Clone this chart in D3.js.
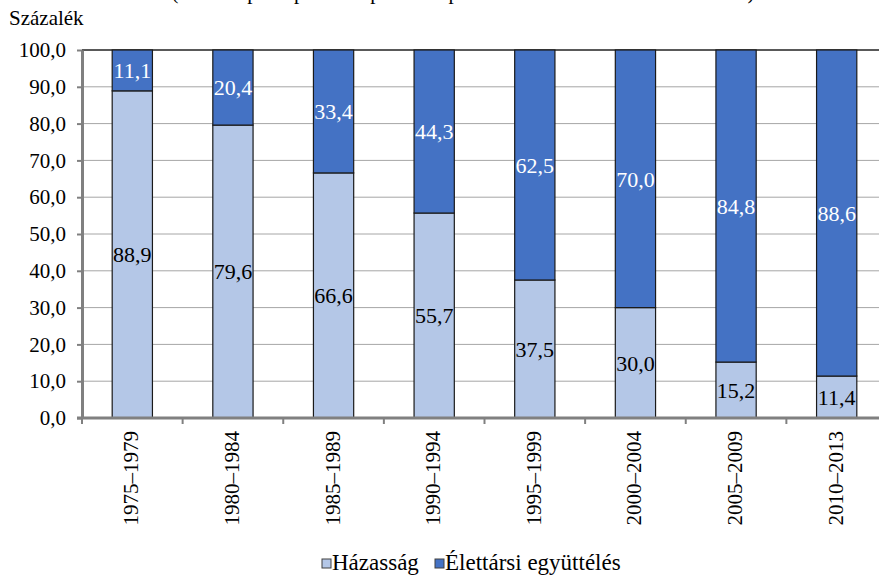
<!DOCTYPE html>
<html>
<head>
<meta charset="utf-8">
<script src="https://cdn.jsdelivr.net/npm/d3@7"></script>
<style>
  html, body { margin: 0; padding: 0; background: #fff; }
  svg { display: block; }
</style>
</head>
<body>
<svg id="chart" width="879" height="575"></svg>
<script>
// Periods when the first partnership started
const periods = ["1975–1979", "1980–1984", "1985–1989", "1990–1994", "1995–1999", "2000–2004", "2005–2009", "2010–2013"];
// Share of partnerships started as marriage (%)
const marriage = [88.9, 79.6, 66.6, 55.7, 37.5, 30.0, 15.2, 11.4];
// Share of partnerships started as cohabitation (%)
const cohabitation = [11.1, 20.4, 33.4, 44.3, 62.5, 70.0, 84.8, 88.6];
const yTicks = [0, 10, 20, 30, 40, 50, 60, 70, 80, 90, 100];
const seriesNames = ["Házasság", "Élettársi együttélés"];
const colors = ["#b4c7e7", "#4472c4"];

const FONT = "Liberation Serif";
const svg = d3.select("#chart").attr("font-family", FONT);
const margin = { left: 82, top: 50, right: -8, bottom: 157 };
const W = 879, H = 575;

const x = d3.scaleBand().domain(periods).range([margin.left, W - margin.right]).paddingInner(0).paddingOuter(0);
const y = d3.scaleLinear().domain([0, 100]).range([H - margin.bottom, margin.top]);
const fmt = v => d3.format(".1f")(v).replace(".", ",");

// Title line (runs off the top edge)
svg.append("text")
  .attr("x", 463).attr("y", -1.5)
  .attr("text-anchor", "middle")
  .attr("font-family", FONT)
  .attr("font-size", 21)
  .text("(Az első párkapcsolat típusa a kapcsolat kezdetének időszaka szerint)");

// Unit label
svg.append("text").attr("x", 9).attr("y", 25)
  .attr("font-family", FONT).attr("font-size", 21).text("Százalék");

// Horizontal gridlines
svg.append("g").selectAll("line")
  .data(yTicks.filter(t => t > 0 && t < 100))
  .join("line")
  .attr("x1", margin.left).attr("x2", W)
  .attr("y1", d => y(d)).attr("y2", d => y(d))
  .attr("stroke", "#a6a6a6").attr("stroke-width", 1);

// Top border of the plot area
svg.append("line")
  .attr("x1", margin.left).attr("x2", W)
  .attr("y1", y(100)).attr("y2", y(100))
  .attr("stroke", "#595959").attr("stroke-width", 2);

// Stacked bars
const stackData = periods.map((p, i) => ({ period: p, m: marriage[i], c: cohabitation[i] }));
const stack = d3.stack().keys(["m", "c"])(stackData);
const barW = x.bandwidth() * 0.4;

stack.forEach((layer, li) => {
  const g = svg.append("g");
  g.selectAll("rect").data(layer).join("rect")
    .attr("x", d => x(d.data.period) + (x.bandwidth() - barW) / 2)
    .attr("y", d => y(d[1]))
    .attr("width", barW)
    .attr("height", d => y(d[0]) - y(d[1]))
    .attr("fill", colors[li])
    .attr("stroke", "#1a1a1a").attr("stroke-width", 1.2);
  g.selectAll("text").data(layer).join("text")
    .attr("x", d => x(d.data.period) + x.bandwidth() / 2)
    .attr("y", d => (y(d[0]) + y(d[1])) / 2)
    .attr("dy", "0.35em")
    .attr("text-anchor", "middle")
    .attr("font-family", FONT)
    .attr("font-size", 22)
    .attr("fill", li === 0 ? "#000" : "#fff")
    .text(d => fmt(d[1] - d[0]));
});

// Y axis
const yAxis = svg.append("g")
  .attr("transform", `translate(${margin.left},0)`)
  .call(d3.axisLeft(y).tickValues(yTicks).tickFormat(fmt).tickSize(5).tickSizeOuter(0))
  .attr("font-family", FONT);
yAxis.select(".domain").attr("stroke", "#808080").attr("stroke-width", 3);
yAxis.selectAll(".tick line").attr("stroke", "#808080").attr("stroke-width", 2);
yAxis.selectAll(".tick text")
  .attr("font-family", FONT)
  .attr("font-size", 21).attr("fill", "#000").attr("x", -16);

// X axis with boundary ticks between periods
const xBase = y(0);
svg.append("line")
  .attr("x1", margin.left - 5).attr("x2", W)
  .attr("y1", xBase).attr("y2", xBase)
  .attr("stroke", "#808080").attr("stroke-width", 3);
svg.append("g").selectAll("line")
  .data(periods)
  .join("line")
  .attr("x1", d => x(d)).attr("x2", d => x(d))
  .attr("y1", xBase).attr("y2", xBase + 6)
  .attr("stroke", "#808080").attr("stroke-width", 2);

svg.append("g").selectAll("text")
  .data(periods)
  .join("text")
  .attr("transform", d => `translate(${x(d) + x.bandwidth() / 2 + 6},${xBase + 13}) rotate(-90)`)
  .attr("text-anchor", "end")
  .attr("font-family", FONT)
  .attr("font-size", 21)
  .text(d => d);

// Legend
const legend = svg.append("g");
const legendItems = [
  { name: seriesNames[0], color: colors[0], x: 322 },
  { name: seriesNames[1], color: colors[1], x: 435 }
];
legendItems.forEach(it => {
  legend.append("rect")
    .attr("x", it.x).attr("y", 559).attr("width", 9).attr("height", 9)
    .attr("fill", it.color).attr("stroke", "#404040").attr("stroke-width", 1);
  legend.append("text")
    .attr("x", it.x + 10).attr("y", 570)
    .attr("font-family", FONT)
    .attr("font-size", 23)
    .text(it.name);
});
</script>
</body>
</html>
